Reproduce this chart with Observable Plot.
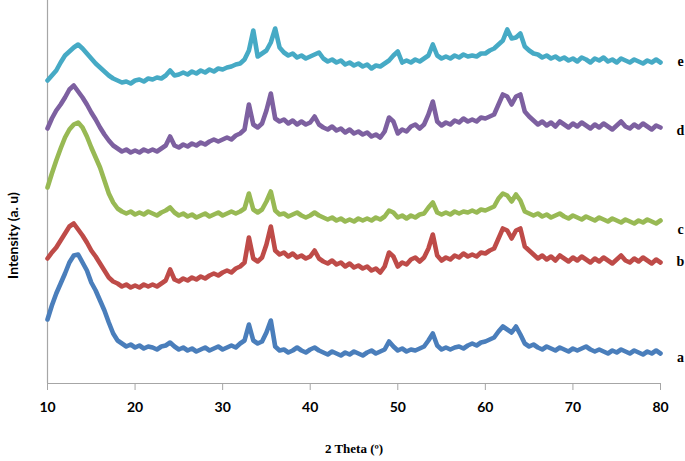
<!DOCTYPE html>
<html>
<head>
<meta charset="utf-8">
<script src="https://cdn.jsdelivr.net/npm/d3@7"></script>
<script src="https://cdn.jsdelivr.net/npm/@observablehq/plot@0.6"></script>
<style>
  html, body { margin: 0; padding: 0; background: #fff; }
  #chart svg { display: block; }
</style>
</head>
<body>
<div id="chart"></div>
<script>
// 2θ sampling positions (degrees)
const theta = [10,10.5,11,11.5,12,12.5,13,13.5,14,14.5,15,15.5,16,16.5,17,17.5,18,18.5,19,19.5,
20,20.5,21,21.5,22,22.5,23,23.5,24,24.5,25,25.5,26,26.5,27,27.5,28,28.5,29,29.5,
30,30.5,31,31.5,32,32.5,33,33.5,34,34.5,35,35.5,36,36.5,37,37.5,38,38.5,39,39.5,
40,40.5,41,41.5,42,42.5,43,43.5,44,44.5,45,45.5,46,46.5,47,47.5,48,48.5,49,49.5,
50,50.5,51,51.5,52,52.5,53,53.5,54,54.5,55,55.5,56,56.5,57,57.5,58,58.5,59,59.5,
60,60.5,61,61.5,62,62.5,63,63.5,64,64.5,65,65.5,66,66.5,67,67.5,68,68.5,69,69.5,
70,70.5,71,71.5,72,72.5,73,73.5,74,74.5,75,75.5,76,76.5,77,77.5,78,78.5,79,79.5,80];

// Intensities (a.u., with the stacking offsets of the original figure)
const seriesA = [64,78,90,100,110,121,128,129,121,113,101,93,83,73,61,50,43,40,37,39,
36,38,35,37,36,34,37,38,41,37,34,36,33,35,32,34,36,33,35,37,
34,36,38,36,40,43,59,43,40,42,51,63,37,33,34,31,33,36,33,31,
34,36,33,31,29,32,30,28,31,29,32,30,28,31,33,30,32,34,42,37,
33,35,32,34,33,35,37,43,50,38,34,36,34,36,37,35,38,40,38,41,
42,44,46,52,57,54,51,57,49,40,37,39,36,34,37,35,33,36,34,32,
35,33,35,37,34,32,34,32,30,33,31,34,32,30,33,31,29,32,30,33,30];

const seriesB = [125,131,136,143,150,157,160,154,148,141,133,127,120,113,106,102,100,97,99,96,
98,96,99,97,99,97,100,103,114,104,102,105,103,106,104,107,105,108,110,108,
111,113,111,115,117,121,146,125,122,126,139,157,133,129,131,127,130,126,128,125,
127,133,125,122,120,123,119,121,117,120,116,118,115,117,113,115,111,117,131,127,
117,121,119,124,126,122,126,135,149,128,123,126,124,128,126,130,127,129,127,131,
130,133,135,145,155,153,145,153,155,137,133,129,125,128,124,127,123,128,125,122,
126,123,127,124,121,125,122,126,123,120,124,128,123,121,125,122,126,123,120,124,121];

const seriesC = [196,210,223,235,246,254,259,261,256,247,236,226,216,203,190,181,175,172,170,172,
169,171,169,172,170,168,171,173,176,171,168,170,167,169,166,168,170,167,169,171,
168,170,172,170,172,175,190,174,171,174,182,192,173,169,170,167,169,171,168,166,
168,171,168,166,164,166,163,165,162,164,162,165,163,165,163,166,164,167,173,171,
166,168,165,168,166,169,170,176,181,171,169,171,169,172,170,172,171,173,171,174,
173,175,177,185,190,188,182,189,183,172,170,168,170,167,169,166,168,170,167,165,
168,166,164,167,165,163,166,164,162,165,163,161,164,162,160,163,161,164,162,160,163];

const seriesD = [255,265,273,279,286,294,298,292,286,279,271,264,256,249,243,238,235,232,234,231,
233,231,234,232,234,232,235,238,247,238,236,239,237,240,238,241,239,242,244,242,
244,246,244,248,250,254,279,259,256,260,273,290,265,262,264,260,263,259,262,259,
261,267,259,256,254,257,253,255,251,254,250,252,249,251,247,249,246,252,266,262,
250,254,252,257,259,255,259,269,282,262,258,261,259,263,261,265,262,264,262,266,
265,267,269,279,289,287,279,287,289,272,267,263,259,262,258,261,257,262,259,256,
260,257,261,258,255,259,256,260,257,254,258,262,257,255,259,256,260,257,254,258,256];

const seriesE = [303,308,313,321,328,332,336,339,335,330,325,320,316,312,308,305,303,301,302,300,
303,304,302,305,304,306,305,308,313,308,309,311,309,312,310,313,311,314,312,315,
314,316,317,319,320,324,333,353,327,330,333,341,355,336,331,328,330,326,328,325,
327,329,331,325,322,324,321,323,319,321,318,320,317,319,315,318,317,320,323,328,
332,321,323,321,324,322,325,328,339,328,325,327,325,328,326,329,327,328,327,330,
330,333,335,339,343,354,345,346,350,337,333,330,329,326,328,325,327,324,326,323,
325,322,326,324,321,325,323,326,322,324,321,325,323,321,324,322,320,323,321,324,321];

const samples = ["a", "b", "c", "d", "e"];
const seriesValues = [seriesA, seriesB, seriesC, seriesD, seriesE];
const sampleColors = ["#4A7EBB", "#BE4B48", "#98B954", "#7D60A0", "#46AAC5"];
// intensity level at which each sample's letter sits at the right end
const labelIntensity = [26, 122, 154, 253, 322];
const xTicks = [10, 20, 30, 40, 50, 60, 70, 80];
const yTitleIntensity = 148; // vertical centre of the y-axis title, in a.u.

const rows = [];
samples.forEach((s, k) => {
  seriesValues[k].forEach((v, i) => rows.push({sample: s, theta: theta[i], intensity: v}));
});
const labels = samples.map((s, k) => ({sample: s, intensity: labelIntensity[k]}));

const chart = Plot.plot({
  width: 685,
  height: 461,
  marginTop: 0,
  marginBottom: 78,
  marginLeft: 47,
  marginRight: 25,
  style: {background: "#fff", overflow: "visible"},
  x: {domain: [10, 80]},
  y: {domain: [0, 383], axis: null},
  color: {domain: samples, range: sampleColors},
  marks: [
    Plot.ruleX([10], {stroke: "#a6a6a6", strokeWidth: 1.2}),
    Plot.ruleY([0], {stroke: "#a6a6a6", strokeWidth: 1.2}),
    Plot.axisX({
      ticks: xTicks, tickSize: 7, tickPadding: 12, stroke: "#a6a6a6", fill: "#000",
      fontSize: 14, fontWeight: "bold", fontFamily: "Lato, 'Open Sans', sans-serif", label: null
    }),
    Plot.lineY(rows, {
      x: "theta", y: "intensity", z: "sample", stroke: "sample",
      strokeWidth: 4.6, strokeLinejoin: "round", curve: "linear"
    }),
    Plot.text(labels, {
      x: 80, y: "intensity", text: "sample", dx: 20,
      fontFamily: "'Liberation Serif', 'DejaVu Serif', serif", fontWeight: "bold", fontSize: 14, fill: "#000"
    }),
    Plot.text(["2 Theta (º)"], {
      frameAnchor: "bottom", dy: 69, text: d => d,
      fontFamily: "'Liberation Serif', 'DejaVu Serif', serif", fontWeight: "bold", fontSize: 13, fill: "#000"
    }),
    Plot.text(["Intensity (a. u)"], {
      x: 10, y: yTitleIntensity, dx: -34, rotate: -90, text: d => d,
      fontFamily: "Lato, 'Open Sans', sans-serif", fontWeight: "bold", fontSize: 14, fill: "#000"
    })
  ]
});
document.getElementById("chart").appendChild(chart);
</script>
</body>
</html>
